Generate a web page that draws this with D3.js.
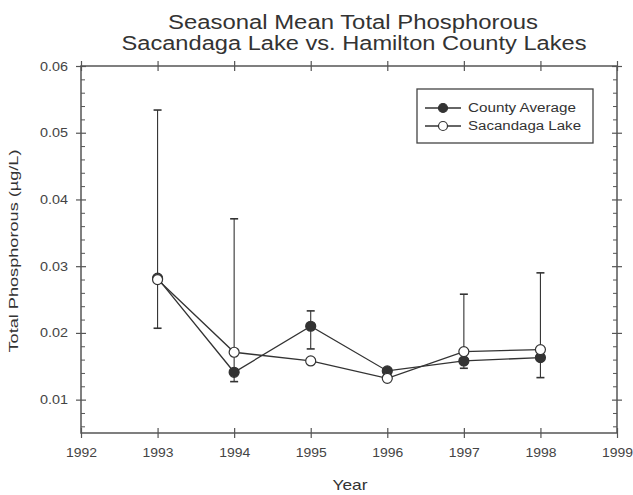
<!DOCTYPE html>
<html><head><meta charset="utf-8">
<script src="https://cdn.jsdelivr.net/npm/d3@7"></script>
<style>body{margin:0;background:#fff}svg{display:block}text{font-family:"Liberation Sans",Arial,sans-serif}</style>
</head><body><div id="chart"></div>
<script>
const years = [1993, 1994, 1995, 1996, 1997, 1998];
const countyAvg = [0.0282, 0.0141, 0.0210, 0.0143, 0.0158, 0.0163];
const sacandaga = [0.0280, 0.0171, 0.0158, 0.0132, 0.0172, 0.0175];
const errLow  = [0.0207, 0.0127, 0.0176, null, 0.0147, 0.0133];
const errHigh = [0.0534, 0.0371, 0.0233, null, 0.0258, 0.0290];
const xTicks = [1992, 1993, 1994, 1995, 1996, 1997, 1998, 1999];
const yTicks = [0.01, 0.02, 0.03, 0.04, 0.05, 0.06];
const seriesNames = ["County Average", "Sacandaga Lake"];

const W = 633, H = 495;
const m = {l: 81, r: 16, t: 66, b: 62};
const svg = d3.select("#chart").append("svg").attr("width", W).attr("height", H);
const x = d3.scaleLinear().domain([1992, 1999]).range([m.l, W - m.r]);
const y = d3.scaleLinear().domain([0.005, 0.06]).range([H - m.b, m.t]);
const axCol = "#555", ink = "#333";

// frame
svg.append("rect").attr("x", x(1992)).attr("y", y(0.06)).attr("width", x(1999) - x(1992))
  .attr("height", y(0.005) - y(0.06)).attr("fill", "none").attr("stroke", axCol).attr("stroke-width", 1.5);

const minor = d3.range(0.006, 0.0601, 0.002).filter(v => Math.abs(v * 100 - Math.round(v * 100)) > 1e-6);
// left axis
const gL = svg.append("g").attr("transform", `translate(${x(1992)},0)`)
  .call(d3.axisLeft(y).tickValues(yTicks).tickFormat(d3.format(".2f")).tickSize(5).tickPadding(8));
gL.select(".domain").remove();
gL.selectAll(".tick line").attr("x1", 5).attr("x2", -5).attr("stroke", axCol).attr("stroke-width", 1.2);
gL.selectAll("text").attr("font-size", 12.5).attr("fill", "#444").attr("textLength", 28).attr("lengthAdjust", "spacingAndGlyphs");
const gLm = svg.append("g").attr("transform", `translate(${x(1992)},0)`)
  .call(d3.axisRight(y).tickValues(minor).tickSize(4).tickFormat(""));
gLm.select(".domain").remove();
gLm.selectAll("line").attr("stroke", axCol);
// right axis
const gR = svg.append("g").attr("transform", `translate(${x(1999)},0)`)
  .call(d3.axisLeft(y).tickValues(yTicks).tickSize(5).tickFormat(""));
gR.select(".domain").remove();
gR.selectAll("line").attr("x1", -5).attr("x2", 5).attr("stroke", axCol).attr("stroke-width", 1.2);
const gRm = svg.append("g").attr("transform", `translate(${x(1999)},0)`)
  .call(d3.axisLeft(y).tickValues(minor).tickSize(4).tickFormat(""));
gRm.select(".domain").remove();
gRm.selectAll("line").attr("stroke", axCol);
// bottom axis
const gB = svg.append("g").attr("transform", `translate(0,${y(0.005)})`)
  .call(d3.axisBottom(x).tickValues(xTicks).tickFormat(d3.format("d")).tickSize(5).tickPadding(10));
gB.select(".domain").remove();
gB.selectAll(".tick line").attr("y1", -5).attr("y2", 5).attr("stroke", axCol).attr("stroke-width", 1.2);
gB.selectAll("text").attr("font-size", 13).attr("fill", "#444").attr("textLength", 31).attr("lengthAdjust", "spacingAndGlyphs");
// top axis
const gT = svg.append("g").attr("transform", `translate(0,${y(0.06)})`)
  .call(d3.axisTop(x).tickValues(xTicks).tickSize(5).tickFormat(""));
gT.select(".domain").remove();
gT.selectAll("line").attr("y1", -5).attr("y2", 5).attr("stroke", axCol).attr("stroke-width", 1.2);

// error bars
const eb = svg.append("g").attr("stroke", ink).attr("stroke-width", 1.1);
years.forEach((yr, i) => {
  if (errLow[i] == null) return;
  eb.append("line").attr("x1", x(yr)).attr("x2", x(yr)).attr("y1", y(errLow[i])).attr("y2", y(errHigh[i]));
  [errLow[i], errHigh[i]].forEach(v => eb.append("line").attr("x1", x(yr) - 4).attr("x2", x(yr) + 4)
    .attr("y1", y(v)).attr("y2", y(v)).attr("stroke-width", 1.6));
});

const line = d3.line().x((d, i) => x(years[i])).y(d => y(d));
[countyAvg, sacandaga].forEach(s => svg.append("path").attr("d", line(s)).attr("fill", "none")
  .attr("stroke", ink).attr("stroke-width", 1.3));
svg.append("g").selectAll("circle").data(countyAvg).join("circle")
  .attr("cx", (d, i) => x(years[i])).attr("cy", d => y(d)).attr("r", 5)
  .attr("fill", "#333").attr("stroke", ink).attr("stroke-width", 1.2);
svg.append("g").selectAll("circle").data(sacandaga).join("circle")
  .attr("cx", (d, i) => x(years[i])).attr("cy", d => y(d)).attr("r", 5)
  .attr("fill", "#fff").attr("stroke", ink).attr("stroke-width", 1.2);

// legend
const lg = svg.append("g").attr("transform", "translate(417,89)");
lg.append("rect").attr("width", 176).attr("height", 54).attr("fill", "#fff").attr("stroke", "#444").attr("stroke-width", 1.3);
const legLen = [108, 113];
seriesNames.forEach((n, i) => {
  const yy = 19 + i * 18;
  lg.append("line").attr("x1", 8).attr("x2", 44).attr("y1", yy).attr("y2", yy).attr("stroke", ink).attr("stroke-width", 1.3);
  lg.append("circle").attr("cx", 26).attr("cy", yy).attr("r", 4.5).attr("fill", i === 0 ? "#333" : "#fff")
    .attr("stroke", ink).attr("stroke-width", 1.2);
  lg.append("text").attr("x", 51).attr("y", yy + 4).attr("font-size", 12).attr("fill", "#333")
    .attr("textLength", legLen[i]).attr("lengthAdjust", "spacingAndGlyphs").text(n);
});

// titles
svg.append("text").attr("x", 353).attr("y", 29).attr("text-anchor", "middle").attr("font-size", 20)
  .attr("fill", "#333").attr("textLength", 370).attr("lengthAdjust", "spacingAndGlyphs").text("Seasonal Mean Total Phosphorous");
svg.append("text").attr("x", 354).attr("y", 50).attr("text-anchor", "middle").attr("font-size", 20)
  .attr("fill", "#333").attr("textLength", 465).attr("lengthAdjust", "spacingAndGlyphs").text("Sacandaga Lake vs. Hamilton County Lakes");
svg.append("text").attr("x", 350).attr("y", 490).attr("text-anchor", "middle").attr("font-size", 15)
  .attr("fill", "#333").attr("textLength", 35).attr("lengthAdjust", "spacingAndGlyphs").text("Year");
svg.append("text").attr("transform", "translate(18,251) rotate(-90)").attr("text-anchor", "middle")
  .attr("font-size", 13.5).attr("fill", "#333").attr("textLength", 203).attr("lengthAdjust", "spacingAndGlyphs")
  .text("Total Phosphorous (µg/L)");
</script></body></html>
